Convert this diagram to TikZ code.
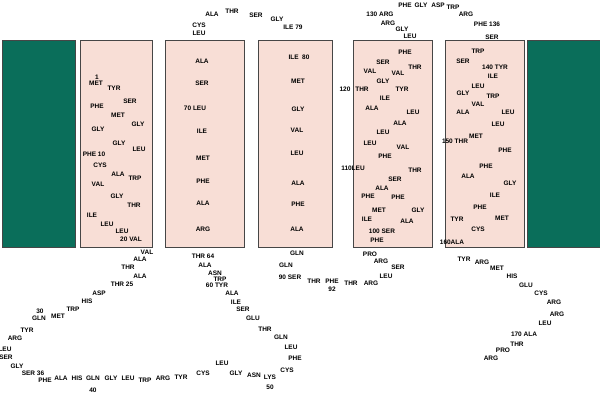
\documentclass[tikz,border=0pt]{standalone}
\usepackage{fontspec}
\setmainfont{Liberation Sans}
\usepackage{tikz}

\definecolor{helixpink}{RGB}{248,222,214}
\definecolor{lipidteal}{RGB}{10,110,90}
\definecolor{edgegray}{RGB}{70,70,70}

\tikzset{
  res/.style={font=\fontsize{6.5}{7}\selectfont\bfseries, text=black, inner sep=0pt},
  helix/.style={draw=edgegray, fill=helixpink, line width=.8pt},
  lipid/.style={draw=edgegray, fill=lipidteal, line width=.5pt}
}

\begin{document}
\begin{tikzpicture}[x=1pt,y=-1pt]
      \useasboundingbox (0,0) rectangle (600,395);

      %% membrane and helices
      \draw[lipid] (2,40) rectangle (75,247);
      \draw[lipid] (527,40) rectangle (600,247);
      \draw[helix] (80,40) rectangle (152,247);
      \draw[helix] (165,40) rectangle (244,247);
      \draw[helix] (258,40) rectangle (332,247);
      \draw[helix] (353,40) rectangle (432,247);
      \draw[helix] (445,40) rectangle (524,247);

      \begin{scope}
        \foreach \x/\y/\t [count=\i] in {97/77/1, 96/83/MET, 114/88/TYR, 130/101/SER,
            97/106/PHE, 118/115/MET, 138/124/GLY, 98/129/GLY, 119/143/GLY, 139/149/LEU,
            94/154/PHE 10, 100/165/CYS, 118/174/ALA, 135/178/TRP, 98/184/VAL,
            117/196/GLY, 134/205/THR, 92/215/ILE, 107/224/LEU, 122/231/LEU, 131/239/20 VAL}
          \node[res] (ha\i) at (\x,\y) {\t};
      \end{scope}

      %% long loop under the first helices
      \begin{scope}
        \foreach \x/\y/\t [count=\i] in {147/252/VAL, 140/259/ALA, 128/267/THR, 140/276/ALA,
            122/284/THR 25, 99/293/ASP, 87/301/HIS, 73/309/TRP, 58/316/MET, 40/311/30,
            39/318/GLN, 27/330/TYR, 15/338/ARG, 5/349/LEU, 6/357/SER, 17/366/GLY,
            33/373/SER 36, 45/380/PHE, 61/378/ALA, 77/378/HIS, 93/378/GLN, 93/390/40,
            111/378/GLY, 128/378/LEU, 145/380/TRP, 163/378/ARG, 181/377/TYR, 203/373/CYS,
            222/363/LEU, 236/373/GLY, 254/375/ASN, 270/377/LYS, 270/387/50, 287/370/CYS,
            295/358/PHE, 291/347/LEU, 281/337/GLN, 265/329/THR, 253/318/GLU, 243/309/SER,
            236/302/ILE, 232/293/ALA, 217/285/60 TYR, 220/279/TRP, 215/273/ASN,
            205/265/ALA, 203/256/THR 64}
          \node[res] (la\i) at (\x,\y) {\t};
      \end{scope}

      \begin{scope}
        \foreach \x/\y/\t [count=\i] in {202/61/ALA, 202/83/SER, 195/108/70 LEU, 202/131/ILE,
            203/158/MET, 203/181/PHE, 203/203/ALA, 203/229/ARG}
          \node[res] (hb\i) at (\x,\y) {\t};
      \end{scope}

      \begin{scope}
        \foreach \x/\y/\t [count=\i] in {199/33/LEU, 199/25/CYS, 212/14/ALA, 232/11/THR,
            256/15/SER, 277/19/GLY, 293/27/ILE 79}
          \node[res] (lb\i) at (\x,\y) {\t};
      \end{scope}

      \begin{scope}
        \foreach \x/\y/\t [count=\i] in {299/57/ILE\ \ 80, 298/81/MET, 298/109/GLY,
            297/130/VAL, 297/153/LEU, 298/183/ALA, 298/204/PHE, 297/229/ALA}
          \node[res] (hc\i) at (\x,\y) {\t};
      \end{scope}

      \begin{scope}
        \foreach \x/\y/\t [count=\i] in {297/253/GLN, 286/265/GLN, 290/277/90 SER,
            314/281/THR, 332/281/PHE, 332/289/92, 351/283/THR, 371/283/ARG, 386/276/LEU,
            398/267/SER, 381/261/ARG, 370/254/PRO}
          \node[res] (lc\i) at (\x,\y) {\t};
      \end{scope}

      \begin{scope}
        \foreach \x/\y/\t [count=\i] in {377/240/PHE, 382/231/100 SER, 367/219/ILE,
            407/221/ALA, 379/210/MET, 418/210/GLY, 368/196/PHE, 398/197/PHE, 382/188/ALA,
            395/179/SER, 353/168/110LEU, 415/170/THR, 385/156/PHE, 370/143/LEU,
            403/147/VAL, 383/132/LEU, 400/123/ALA, 372/108/ALA, 413/112/LEU, 385/98/ILE,
            362/89/THR, 345/89/120, 402/89/TYR, 383/81/GLY, 370/71/VAL, 398/73/VAL,
            383/62/SER, 415/67/THR, 405/52/PHE}
          \node[res] (hd\i) at (\x,\y) {\t};
      \end{scope}

      \begin{scope}
        \foreach \x/\y/\t [count=\i] in {410/36/LEU, 402/29/GLY, 388/23/ARG, 380/14/130 ARG,
            405/5/PHE, 421/5/GLY, 438/5/ASP, 453/7/TRP, 466/14/ARG, 487/24/PHE 136,
            492/37/SER}
          \node[res] (ld\i) at (\x,\y) {\t};
      \end{scope}

      \begin{scope}
        \foreach \x/\y/\t [count=\i] in {478/51/TRP, 463/61/SER, 495/67/140 TYR, 493/76/ILE,
            478/86/LEU, 463/93/GLY, 493/96/TRP, 478/104/VAL, 463/112/ALA, 508/112/LEU,
            498/124/LEU, 476/136/MET, 455/141/150 THR, 505/150/PHE, 486/166/PHE,
            468/176/ALA, 510/183/GLY, 495/195/ILE, 480/207/PHE, 457/219/TYR,
            502/218/MET, 478/229/CYS, 452/242/160ALA}
          \node[res] (he\i) at (\x,\y) {\t};
      \end{scope}

      %% C-terminal tail
      \begin{scope}
        \foreach \x/\y/\t [count=\i] in {464/259/TYR, 482/262/ARG, 497/268/MET, 512/276/HIS,
            526/285/GLU, 541/293/CYS, 554/302/ARG, 557/314/ARG, 545/323/LEU,
            524/334/170 ALA, 517/344/THR, 503/350/PRO, 491/358/ARG}
          \node[res] (le\i) at (\x,\y) {\t};
      \end{scope}
    \end{tikzpicture}
\end{document}
